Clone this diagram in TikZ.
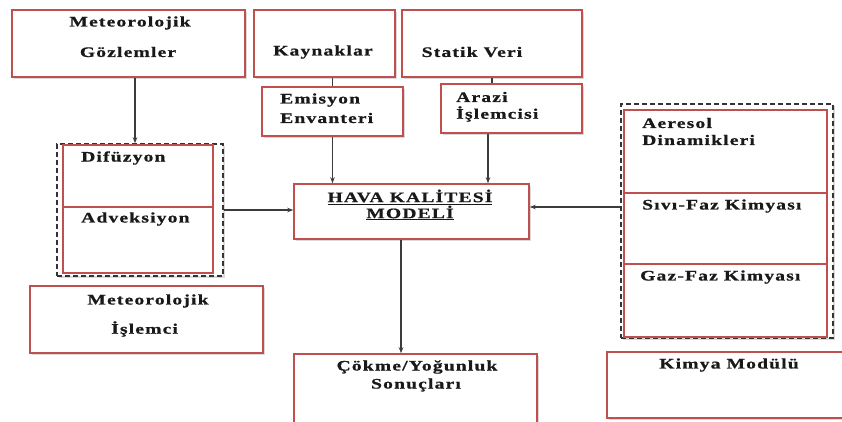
\documentclass[tikz,border=0pt]{standalone}
\usepackage{fontspec}
\setmainfont{Liberation Serif}[FakeStretch=1.35,LetterSpace=8,FakeBold=0.8]
\usetikzlibrary{arrows.meta}
\usetikzlibrary{shadows}
\definecolor{boxred}{RGB}{192,80,77}
\definecolor{linegray}{RGB}{60,60,60}
\tikzset{box/.style={draw=boxred,line width=1.6pt,fill=white,inner sep=0pt,
   drop shadow={opacity=0.3,shadow xshift=1.5pt,shadow yshift=-1.5pt}},
 cell/.style={draw=boxred,line width=1.4pt,fill=white,inner sep=0pt},
 dashbox/.style={draw=black!80,line width=1.6pt,dash pattern=on 5pt off 3pt,fill=white,inner sep=0pt,
   drop shadow={opacity=0.3,shadow xshift=1.5pt,shadow yshift=-1.5pt}},
 lbl/.style={font=\fontsize{14.5}{16}\selectfont\bfseries,inner sep=0pt,text=black!90},
 link/.style={draw=linegray,line width=1.5pt,-{Stealth[length=6pt,width=4.5pt]}},
 tick/.style={draw=linegray,line width=1.5pt},
 }

\begin{document}
\begin{tikzpicture}[x=1pt,y=-1pt]
    \clip (0,0) rectangle (842,421);
    % upper row
    \node[box,minimum width=233pt,minimum height=67pt] (gozlem) at (128.5,43.5) {};
    \node[box,minimum width=141pt,minimum height=67pt] (kaynak) at (324.5,43.5) {};
    \node[box,minimum width=180pt,minimum height=67pt] (statik) at (492,43.5) {};
    \node[box,minimum width=141pt,minimum height=49pt] (emisyon) at (332.5,111.5) {};
    \node[box,minimum width=141pt,minimum height=49pt] (arazi) at (511.5,108.5) {};
    \node[lbl] (gozlemA) at (130,23) {Meteorolojik};
    \node[lbl] (gozlemB) at (128,52) {Gözlemler};
    \node[lbl] (kaynakT) at (323,52) {Kaynaklar};
    \node[lbl] (statikT) at (472,52) {Statik Veri};
    \node[lbl,anchor=west] (emisyonA) at (280,100) {Emisyon};
    \node[lbl,anchor=west] (emisyonB) at (280,118) {Envanteri};
    \node[lbl,anchor=west] (araziA) at (456,97) {Arazi};
    \node[lbl,anchor=west] (araziB) at (456,114) {İşlemcisi};
    % left group
    \node[dashbox,minimum width=166pt,minimum height=132pt] (dashL) at (140,210) {};
    \node[cell,minimum width=150pt,minimum height=62pt] (difuzyon) at (138,176) {};
    \node[cell,minimum width=150pt,minimum height=66pt] (advek) at (138,240) {};
    \node[lbl,anchor=west] (difuzyonT) at (81,158) {Difüzyon};
    \node[lbl,anchor=west] (advekT) at (81,219) {Adveksiyon};
    % model
    \node[box,minimum width=235pt,minimum height=55pt] (hava) at (411.5,211.5) {};
    \node[lbl] (havaA) at (410,197) {\underline{HAVA KALİTESİ}};
    \node[lbl] (havaB) at (410,213) {\underline{MODELİ}};
    % right group
    \node[dashbox,minimum width=212pt,minimum height=234pt] (dashR) at (727,221) {};
    \node[cell,minimum width=203pt,minimum height=83pt] (aeresol) at (725.5,151.5) {};
    \node[cell,minimum width=203pt,minimum height=71pt] (sivi) at (725.5,228.5) {};
    \node[cell,minimum width=203pt,minimum height=73pt] (gaz) at (725.5,300.5) {};
    \node[lbl,anchor=west] (aeresolA) at (642,123) {Aeresol};
    \node[lbl,anchor=west] (aeresolB) at (642,140) {Dinamikleri};
    \node[lbl,anchor=west] (siviT) at (642,206) {Sıvı-Faz Kimyası};
    \node[lbl,anchor=west] (gazT) at (640,277) {Gaz-Faz Kimyası};
    % lower row
    \node[box,minimum width=233pt,minimum height=67pt] (islemci) at (146.5,319.5) {};
    \node[lbl] (islemciA) at (148,301) {Meteorolojik};
    \node[lbl,anchor=west] (islemciB) at (111,329) {İşlemci};
    \node[box,minimum width=243pt,minimum height=72pt] (cokme) at (415.5,390) {};
    \node[lbl] (cokmeA) at (417,367) {Çökme/Yoğunluk};
    \node[lbl] (cokmeB) at (416,385) {Sonuçları};
    \node[box,minimum width=250pt,minimum height=66pt] (kimya) at (732,385) {};
    \node[lbl] (kimyaT) at (729,365) {Kimya Modülü};
    % connectors
    \coordinate (g1) at ([xshift=6.5pt]gozlem.south);
    \coordinate (a1) at ([xshift=-23.5pt]arazi.south);
    \coordinate (h1) at ([xshift=-10.5pt]hava.south);
    \coordinate (r1) at ([yshift=14pt]dashR.west);
    \draw[tick] (kaynak.south -| emisyon.north) -- (emisyon.north);
    \draw[tick] (statik.south) -- (statik.south |- arazi.north);
    \draw[link] (g1) -- (g1 |- dashL.north);
    \draw[link] (emisyon.south) -- (emisyon.south |- hava.north);
    \draw[link] (a1) -- (a1 |- hava.north);
    \draw[link] (dashL.east) -- (dashL.east -| hava.west);
    \draw[link] (r1) -- (r1 -| hava.east);
    \draw[link] (h1) -- (h1 |- cokme.north);
\end{tikzpicture}
\end{document}
